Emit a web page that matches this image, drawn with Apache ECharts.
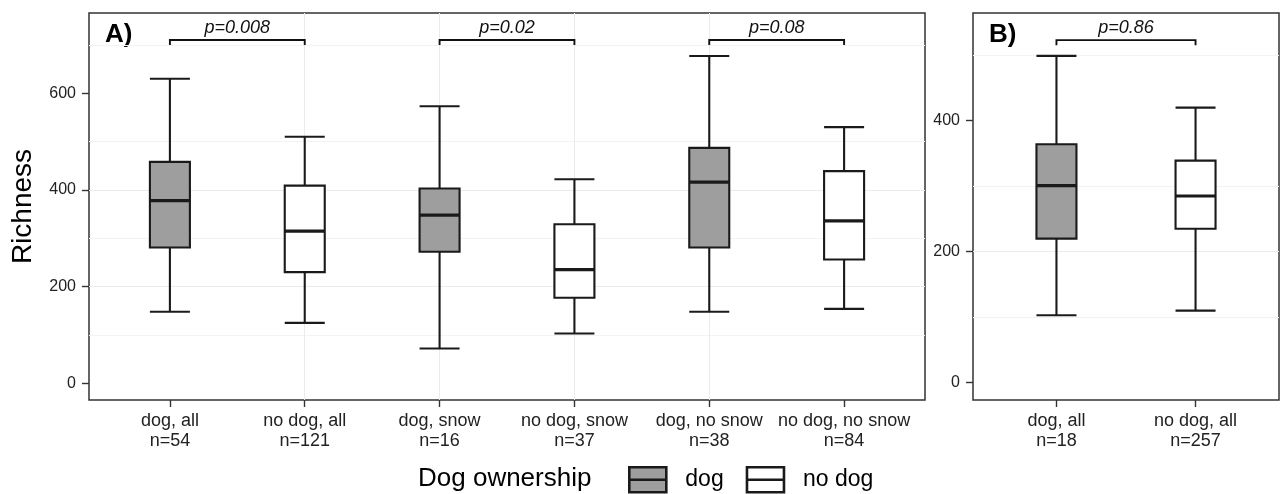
<!DOCTYPE html>
<html>
<head>
<meta charset="utf-8">
<script src="https://cdn.jsdelivr.net/npm/echarts@6/dist/echarts.min.js"></script>
<style>
html,body{margin:0;padding:0;background:#fff;}
#chart{width:1284px;height:494px;}
</style>
</head>
<body>
<div id="chart"></div>
<script>
// ---------- Data: panel A ----------
const groupsA = ['dog, all', 'no dog, all', 'dog, snow', 'no dog, snow', 'dog, no snow', 'no dog, no snow'];
const countsA = [54, 121, 16, 37, 38, 84];
const ownerA = ['dog', 'no dog', 'dog', 'no dog', 'dog', 'no dog'];
const minA = [148, 125, 72, 103, 148, 154];
const q1A = [281, 230, 272, 177, 281, 256];
const medA = [378, 315, 348, 235, 416, 336];
const q3A = [458, 409, 403, 329, 487, 439];
const maxA = [630, 510, 573, 422, 677, 530];
const pairsA = [[1, 2], [3, 4], [5, 6]];
const pLabelsA = ['p=0.008', 'p=0.02', 'p=0.08'];
const bracketA = [700, 710];          // leg end, bracket top (data units)
const yTicksA = [0, 200, 400, 600];
const yRangeA = [-34.5, 766];

// ---------- Data: panel B ----------
const groupsB = ['dog, all', 'no dog, all'];
const countsB = [18, 257];
const ownerB = ['dog', 'no dog'];
const minB = [103, 110];
const q1B = [220, 235];
const medB = [301, 285];
const q3B = [364, 339];
const maxB = [499, 420];
const pairsB = [[1, 2]];
const pLabelsB = ['p=0.86'];
const bracketB = [515, 523];
const yTicksB = [0, 200, 400];
const yRangeB = [-26.4, 564.4];

const ownerLevels = ['dog', 'no dog'];

// ---------- Styles ----------
const FONT = '"Liberation Sans", Arial, Helvetica, sans-serif';
const fillOf = { 'dog': '#9e9e9e', 'no dog': '#ffffff' };
const STROKE = '#1a1a1a';
const BOX_W = 40;
const TEXT_C = '#222222';

function boxData(owner, who, mn, q1, md, q3, mx) {
  const out = [];
  owner.forEach((o, i) => { if (o === who) out.push([i + 1, mn[i], q1[i], md[i], q3[i], mx[i]]); });
  return out;
}

function xAxisFor(gridIndex, groups, counts) {
  const n = groups.length;
  const ticks = groups.map((_, i) => i + 1);
  return {
    type: 'value', gridIndex, min: 0.4, max: n + 0.6, splitNumber: n,
    axisLine: { show: false, onZero: false },
    axisTick: { show: true, length: 7, lineStyle: { color: '#333', width: 1.4 }, customValues: ticks },
    axisLabel: {
      show: true, margin: 11, fontSize: 18, lineHeight: 20, color: TEXT_C, fontFamily: FONT,
      customValues: ticks,
      formatter: v => { const i = Math.round(v) - 1; return (Math.abs(v - Math.round(v)) < 1e-6 && i >= 0 && i < n) ? groups[i] + '\nn=' + counts[i] : ''; }
    },
    splitLine: { show: true, showMinLine: false, showMaxLine: false, lineStyle: { color: '#ebebeb', width: 1 } },
    minorSplitLine: { show: false }
  };
}
function yAxisFor(gridIndex, range, ticks, splitNumber, name) {
  return {
    type: 'value', gridIndex, min: range[0], max: range[1], splitNumber,
    name: name || '', nameLocation: 'middle', nameGap: 52,
    nameTextStyle: { fontSize: 28, color: '#000', fontFamily: FONT },
    axisLine: { show: false, onZero: false },
    axisTick: { show: true, length: 7, lineStyle: { color: '#333', width: 1.4 }, customValues: ticks },
    axisLabel: {
      show: true, margin: 13, fontSize: 16, color: TEXT_C, fontFamily: FONT,
      customValues: ticks,
      formatter: v => String(v)
    },
    splitLine: { show: true, showMinLine: false, showMaxLine: false, lineStyle: { color: '#ebebeb', width: 1 } },
    minorTick: { show: false, splitNumber: 2 },
    minorSplitLine: { show: true, lineStyle: { color: '#f3f3f3', width: 1 } }
  };
}

function boxSeries(name, idx, data) {
  return {
    type: 'custom', name, xAxisIndex: idx, yAxisIndex: idx, data, silent: true, z: 3, clip: false,
    encode: { x: 0, y: [1, 2, 3, 4, 5] },
    itemStyle: { color: fillOf[name], borderColor: STROKE, borderWidth: 2 },
    renderItem: (params, api) => {
      const x = api.value(0);
      const pMin = api.coord([x, api.value(1)]);
      const pQ1 = api.coord([x, api.value(2)]);
      const pMed = api.coord([x, api.value(3)]);
      const pQ3 = api.coord([x, api.value(4)]);
      const pMax = api.coord([x, api.value(5)]);
      const cx = pMin[0], hw = BOX_W / 2;
      const ls = { stroke: STROKE, lineWidth: 2.1, lineCap: 'butt' };
      return {
        type: 'group',
        children: [
          { type: 'line', shape: { x1: cx, y1: pMax[1], x2: cx, y2: pQ3[1] }, style: ls },
          { type: 'line', shape: { x1: cx, y1: pQ1[1], x2: cx, y2: pMin[1] }, style: ls },
          { type: 'line', shape: { x1: cx - hw, y1: pMax[1], x2: cx + hw, y2: pMax[1] }, style: ls },
          { type: 'line', shape: { x1: cx - hw, y1: pMin[1], x2: cx + hw, y2: pMin[1] }, style: ls },
          { type: 'rect', shape: { x: cx - hw, y: pQ3[1], width: BOX_W, height: pQ1[1] - pQ3[1] },
            style: { fill: fillOf[name], stroke: STROKE, lineWidth: 2.1, lineJoin: 'miter' } },
          { type: 'line', shape: { x1: cx - hw, y1: pMed[1], x2: cx + hw, y2: pMed[1] },
            style: { stroke: STROKE, lineWidth: 3.2 } }
        ]
      };
    }
  };
}
function bracketSeries(idx, pairs, labels, br) {
  return {
    type: 'custom', xAxisIndex: idx, yAxisIndex: idx, data: pairs, silent: true, z: 5, clip: false,
    renderItem: (params, api) => {
      const x1 = api.value(0), x2 = api.value(1);
      const a = api.coord([x1, br[0]]), b = api.coord([x1, br[1]]);
      const c = api.coord([x2, br[1]]), d = api.coord([x2, br[0]]);
      return {
        type: 'group',
        children: [
          { type: 'polyline', shape: { points: [a, b, c, d] }, style: { stroke: '#111', lineWidth: 1.9, fill: null } },
          { type: 'text', style: { text: labels[params.dataIndex], x: (b[0] + c[0]) / 2, y: b[1] - 12.5,
              align: 'center', verticalAlign: 'middle', fill: '#111',
              font: 'italic 18px ' + FONT } }
        ]
      };
    }
  };
}

const iconPath = 'path://M0,0 L37,0 L37,25 L0,25 Z M0,12.5 L37,12.5';

const option = {
  animation: false,
  backgroundColor: '#ffffff',
  textStyle: { fontFamily: FONT },
  grid: [
    { left: 89, top: 13, width: 836, height: 387, show: true, borderColor: '#333', borderWidth: 1.5,
      backgroundColor: '#fff', containLabel: false, outerBoundsMode: 'none' },
    { left: 973, top: 13, width: 306, height: 387, show: true, borderColor: '#333', borderWidth: 1.5,
      backgroundColor: '#fff', containLabel: false, outerBoundsMode: 'none' }
  ],
  xAxis: [xAxisFor(0, groupsA, countsA), xAxisFor(1, groupsB, countsB)],
  yAxis: [yAxisFor(0, yRangeA, yTicksA, 4, 'Richness'), yAxisFor(1, yRangeB, yTicksB, 3, '')],
  legend: {
    show: true, left: 628, top: 466, padding: 0, orient: 'horizontal',
    itemWidth: 37, itemHeight: 25, itemGap: 22, selectedMode: false, icon: iconPath,
    textStyle: { fontSize: 23, color: '#000', fontFamily: FONT, padding: [0, 0, 0, 14] },
    data: ownerLevels.map(o => ({ name: o, icon: iconPath,
      itemStyle: { color: fillOf[o], borderColor: STROKE, borderWidth: 2.6 } }))
  },
  graphic: [
    { type: 'text', x: 105, y: 35, style: { text: 'A)', font: 'bold 26px ' + FONT, fill: '#000', verticalAlign: 'middle', align: 'left' } },
    { type: 'text', x: 989, y: 35, style: { text: 'B)', font: 'bold 26px ' + FONT, fill: '#000', verticalAlign: 'middle', align: 'left' } },
    { type: 'text', x: 418, y: 479, style: { text: 'Dog ownership', font: '26px ' + FONT, fill: '#000', verticalAlign: 'middle', align: 'left' } }
  ],
  series: [
    boxSeries('dog', 0, boxData(ownerA, 'dog', minA, q1A, medA, q3A, maxA)),
    boxSeries('no dog', 0, boxData(ownerA, 'no dog', minA, q1A, medA, q3A, maxA)),
    boxSeries('dog', 1, boxData(ownerB, 'dog', minB, q1B, medB, q3B, maxB)),
    boxSeries('no dog', 1, boxData(ownerB, 'no dog', minB, q1B, medB, q3B, maxB)),
    bracketSeries(0, pairsA, pLabelsA, bracketA),
    bracketSeries(1, pairsB, pLabelsB, bracketB)
  ]
};

const chart = echarts.init(document.getElementById('chart'), null, { renderer: 'canvas' });
chart.setOption(option);
</script>
</body>
</html>
